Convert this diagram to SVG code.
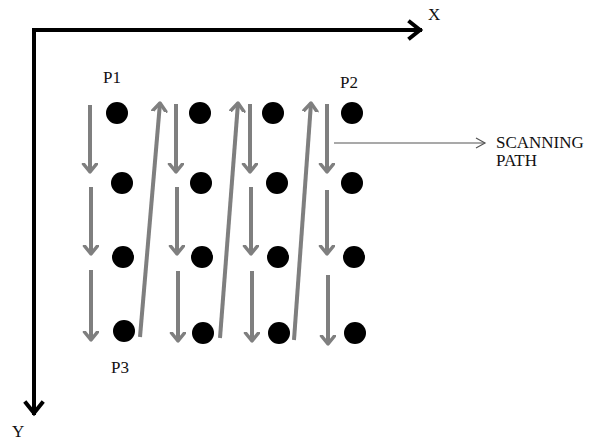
<svg xmlns="http://www.w3.org/2000/svg" width="590" height="442" viewBox="0 0 590 442">
<defs>
<style>
.ax{stroke:#000;stroke-width:4;fill:none;stroke-linecap:square}
.g{stroke:#7f7f7f;stroke-width:4;fill:none}
.dot{fill:#000}
.t{font-family:"Liberation Serif",serif;font-size:17px;fill:#111}
</style>
<marker id="ah" markerWidth="18" markerHeight="18" refX="9" refY="8" orient="auto" markerUnits="userSpaceOnUse">
<path d="M1,1.5 L9,8 L1,14.5" fill="none" stroke="#7f7f7f" stroke-width="3.5" stroke-linecap="round" stroke-linejoin="round"/>
</marker>
<marker id="thin" markerWidth="14" markerHeight="14" refX="10" refY="7" orient="auto" markerUnits="userSpaceOnUse">
<path d="M1,2 L10,7 L1,12" fill="none" stroke="#555" stroke-width="1.2"/>
</marker>
</defs>
<rect width="590" height="442" fill="#fff"/>
<g id="axes">
<path class="ax" d="M420,30 L34,30 L34,413"/>
<path class="ax" d="M410,22 L420,30 L410,38"/>
<path class="ax" d="M26,403 L34,413 L42,403"/>
<text class="t" x="428" y="20">X</text>
<text class="t" x="12" y="437">Y</text>
</g>
<g id="points">
<circle class="dot" cx="117" cy="113" r="11"/>
<circle class="dot" cx="200" cy="113" r="11"/>
<circle class="dot" cx="273" cy="113" r="11"/>
<circle class="dot" cx="352" cy="113" r="11"/>
<circle class="dot" cx="122" cy="183" r="11"/>
<circle class="dot" cx="201" cy="183" r="11"/>
<circle class="dot" cx="277" cy="183" r="11"/>
<circle class="dot" cx="352" cy="183" r="11"/>
<circle class="dot" cx="123" cy="257" r="11"/>
<circle class="dot" cx="202" cy="257" r="11"/>
<circle class="dot" cx="278" cy="257" r="11"/>
<circle class="dot" cx="354" cy="257" r="11"/>
<circle class="dot" cx="124" cy="331" r="11"/>
<circle class="dot" cx="203" cy="333" r="11"/>
<circle class="dot" cx="279" cy="333" r="11"/>
<circle class="dot" cx="355" cy="333" r="11"/>
</g>
<g id="labels">
<text class="t" x="103" y="83">P1</text>
<text class="t" x="340" y="88">P2</text>
<text class="t" x="111" y="373">P3</text>
<text class="t" x="496" y="148">SCANNING</text>
<text class="t" x="496" y="166">PATH</text>
</g>
<g id="connectors">
<line class="g" x1="90" y1="105" x2="90" y2="172" marker-end="url(#ah)"/>
<line class="g" x1="91" y1="187" x2="91" y2="254" marker-end="url(#ah)"/>
<line class="g" x1="91" y1="270" x2="91" y2="340" marker-end="url(#ah)"/>
<line class="g" x1="176" y1="104" x2="176" y2="172" marker-end="url(#ah)"/>
<line class="g" x1="177" y1="187" x2="177" y2="254" marker-end="url(#ah)"/>
<line class="g" x1="178" y1="271" x2="178" y2="341" marker-end="url(#ah)"/>
<line class="g" x1="250" y1="104" x2="250" y2="172" marker-end="url(#ah)"/>
<line class="g" x1="251" y1="187" x2="251" y2="254" marker-end="url(#ah)"/>
<line class="g" x1="252" y1="271" x2="252" y2="341" marker-end="url(#ah)"/>
<line class="g" x1="327" y1="104" x2="327" y2="172" marker-end="url(#ah)"/>
<line class="g" x1="327" y1="190" x2="327" y2="254" marker-end="url(#ah)"/>
<line class="g" x1="328" y1="275" x2="328" y2="344" marker-end="url(#ah)"/>
<line class="g" x1="140" y1="337" x2="160" y2="103" marker-end="url(#ah)"/>
<line class="g" x1="220" y1="338" x2="238" y2="103" marker-end="url(#ah)"/>
<line class="g" x1="294" y1="340" x2="311" y2="103" marker-end="url(#ah)"/>
<line x1="334" y1="143" x2="485" y2="143" stroke="#555" stroke-width="1.2" marker-end="url(#thin)"/>
</g>
</svg>
